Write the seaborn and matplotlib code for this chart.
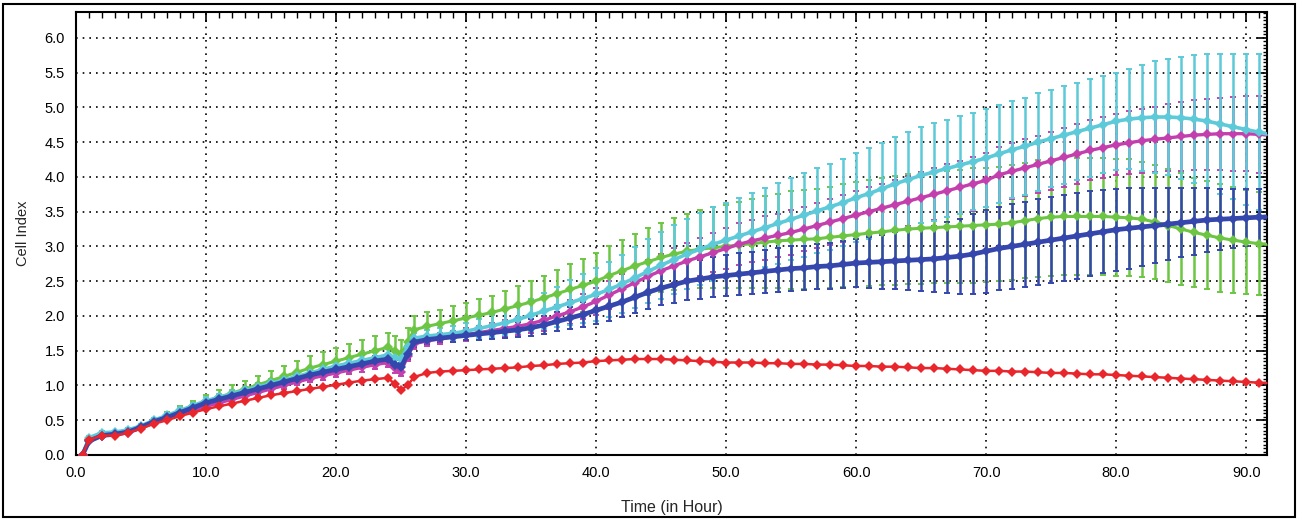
import matplotlib
matplotlib.use("Agg")
import matplotlib.pyplot as plt
import seaborn as sns
import pandas as pd
import numpy as np
from matplotlib.ticker import MultipleLocator, FormatStrFormatter
from matplotlib.patches import Rectangle

time_h = [0.5, 1, 2, 3, 4, 5, 6, 7, 8, 9, 10,
          11, 12, 13, 14, 15, 16, 17, 18, 19, 20, 21, 22, 23, 24,
          24.5, 25, 25.5,
          26, 27, 28, 29, 30, 31, 32, 33, 34, 35, 36, 37, 38, 39, 40,
          41, 42, 43, 44, 45, 46, 47, 48, 49, 50,
          51, 52, 53, 54, 55, 56, 57, 58, 59, 60,
          61, 62, 63, 64, 65, 66, 67, 68, 69, 70,
          71, 72, 73, 74, 75, 76, 77, 78, 79, 80,
          81, 82, 83, 84, 85, 86, 87, 88, 89, 90, 91, 92]

red = [0.0, 0.22, 0.28, 0.28, 0.32, 0.38, 0.45, 0.50, 0.56, 0.61, 0.66,
       0.70, 0.74, 0.78, 0.82, 0.86, 0.89, 0.92, 0.95, 0.98, 1.01, 1.04, 1.07, 1.09, 1.11,
       1.02, 0.94, 1.00,
       1.12, 1.18, 1.20, 1.21, 1.22, 1.23, 1.24, 1.25, 1.26, 1.28, 1.29, 1.31, 1.32, 1.33, 1.35,
       1.36, 1.37, 1.38, 1.38, 1.38, 1.37, 1.36, 1.35, 1.34, 1.33,
       1.33, 1.33, 1.32, 1.32, 1.31, 1.31, 1.30, 1.30, 1.29, 1.28,
       1.28, 1.27, 1.27, 1.26, 1.25, 1.25, 1.24, 1.23, 1.22, 1.21,
       1.21, 1.20, 1.20, 1.19, 1.18, 1.18, 1.17, 1.16, 1.16, 1.15,
       1.14, 1.13, 1.12, 1.11, 1.10, 1.09, 1.08, 1.07, 1.06, 1.05, 1.04, 1.03]

green = [0.0, 0.22, 0.28, 0.29, 0.33, 0.40, 0.48, 0.56, 0.63, 0.70, 0.77,
         0.83, 0.89, 0.95, 1.01, 1.07, 1.13, 1.19, 1.25, 1.30, 1.35, 1.40, 1.45, 1.50, 1.55,
         1.50, 1.45, 1.62,
         1.80, 1.85, 1.89, 1.93, 1.97, 2.01, 2.05, 2.10, 2.15, 2.20, 2.26, 2.32, 2.38, 2.44, 2.50,
         2.58, 2.65, 2.72, 2.78, 2.84, 2.89, 2.93, 2.96, 2.98, 3.00,
         3.02, 3.04, 3.06, 3.08, 3.09, 3.10, 3.11, 3.13, 3.15, 3.17,
         3.19, 3.21, 3.23, 3.25, 3.26, 3.27, 3.28, 3.29, 3.30, 3.31,
         3.32, 3.34, 3.37, 3.40, 3.42, 3.43, 3.43, 3.43, 3.43, 3.42,
         3.41, 3.39, 3.35, 3.30, 3.25, 3.20, 3.16, 3.12, 3.09, 3.06, 3.04, 3.02]
green_sd = [0.01, 0.02, 0.02, 0.03, 0.03, 0.04, 0.05, 0.06, 0.07, 0.08, 0.09,
            0.10, 0.11, 0.12, 0.13, 0.14, 0.15, 0.16, 0.17, 0.18, 0.19, 0.20, 0.20, 0.21, 0.21,
            0.21, 0.21, 0.21,
            0.20, 0.20, 0.20, 0.21, 0.22, 0.23, 0.24, 0.26, 0.28, 0.30, 0.32, 0.34, 0.36, 0.38, 0.40,
            0.42, 0.44, 0.46, 0.48, 0.50, 0.52, 0.54, 0.56, 0.58, 0.60,
            0.62, 0.64, 0.66, 0.68, 0.70, 0.71, 0.72, 0.73, 0.74, 0.75,
            0.76, 0.77, 0.78, 0.79, 0.80, 0.80, 0.81, 0.81, 0.82, 0.82,
            0.82, 0.83, 0.83, 0.84, 0.84, 0.84, 0.84, 0.84, 0.84, 0.84,
            0.84, 0.83, 0.82, 0.81, 0.80, 0.79, 0.78, 0.77, 0.76, 0.75, 0.74, 0.72]

magenta = [0.0, 0.22, 0.28, 0.29, 0.32, 0.39, 0.46, 0.52, 0.58, 0.64, 0.70,
           0.75, 0.80, 0.85, 0.90, 0.95, 1.00, 1.05, 1.10, 1.14, 1.18, 1.22, 1.26, 1.30, 1.33,
           1.25, 1.20, 1.42,
           1.60, 1.64, 1.67, 1.70, 1.73, 1.76, 1.79, 1.82, 1.85, 1.89, 1.94, 2.00, 2.06, 2.13, 2.21,
           2.30, 2.39, 2.48, 2.57, 2.65, 2.72, 2.79, 2.85, 2.91, 2.97,
           3.03, 3.08, 3.12, 3.16, 3.20, 3.25, 3.30, 3.35, 3.40, 3.45,
           3.50, 3.55, 3.60, 3.65, 3.70, 3.75, 3.80, 3.85, 3.90, 3.95,
           4.03, 4.08, 4.13, 4.18, 4.23, 4.28, 4.33, 4.38, 4.42, 4.46,
           4.49, 4.52, 4.54, 4.56, 4.58, 4.60, 4.61, 4.62, 4.62, 4.62, 4.61, 4.60]
magenta_sd = [0.01, 0.02, 0.02, 0.02, 0.02, 0.03, 0.03, 0.03, 0.03, 0.04, 0.04,
              0.04, 0.04, 0.04, 0.05, 0.05, 0.05, 0.05, 0.05, 0.06, 0.06, 0.06, 0.06, 0.07, 0.07,
              0.07, 0.07, 0.07,
              0.07, 0.07, 0.08, 0.08, 0.09, 0.10, 0.11, 0.12, 0.13, 0.14, 0.15, 0.16, 0.17, 0.18, 0.19,
              0.20, 0.21, 0.22, 0.23, 0.24, 0.25, 0.26, 0.27, 0.28, 0.29,
              0.30, 0.30, 0.31, 0.31, 0.32, 0.32, 0.33, 0.33, 0.34, 0.34,
              0.35, 0.35, 0.36, 0.36, 0.37, 0.37, 0.38, 0.38, 0.39, 0.39,
              0.40, 0.40, 0.41, 0.41, 0.42, 0.42, 0.43, 0.43, 0.44, 0.44,
              0.45, 0.46, 0.47, 0.48, 0.49, 0.50, 0.51, 0.52, 0.53, 0.54, 0.55, 0.56]

cyan = [0.0, 0.25, 0.32, 0.33, 0.36, 0.42, 0.50, 0.57, 0.64, 0.71, 0.78,
        0.83, 0.88, 0.93, 0.98, 1.03, 1.08, 1.13, 1.18, 1.23, 1.28, 1.32, 1.36, 1.40, 1.44,
        1.40, 1.38, 1.55,
        1.68, 1.71, 1.73, 1.75, 1.78, 1.82, 1.86, 1.90, 1.95, 2.01, 2.07, 2.13, 2.19, 2.25, 2.31,
        2.38, 2.46, 2.55, 2.64, 2.73, 2.81, 2.89, 2.96, 3.03, 3.09,
        3.15, 3.21, 3.27, 3.33, 3.39, 3.45, 3.51, 3.57, 3.63, 3.70,
        3.76, 3.83, 3.90, 3.96, 4.02, 4.07, 4.12, 4.17, 4.22, 4.27,
        4.33, 4.39, 4.44, 4.50, 4.55, 4.60, 4.65, 4.70, 4.75, 4.80,
        4.83, 4.85, 4.86, 4.86, 4.85, 4.83, 4.80, 4.76, 4.72, 4.68, 4.64, 4.60]
cyan_sd = [0.01, 0.02, 0.02, 0.02, 0.03, 0.03, 0.03, 0.04, 0.04, 0.04, 0.05,
           0.05, 0.05, 0.05, 0.06, 0.06, 0.06, 0.06, 0.07, 0.07, 0.07, 0.08, 0.08, 0.08, 0.08,
           0.08, 0.08, 0.08,
           0.08, 0.09, 0.10, 0.11, 0.12, 0.14, 0.16, 0.18, 0.20, 0.23, 0.26, 0.29, 0.32, 0.35, 0.38,
           0.40, 0.42, 0.44, 0.46, 0.48, 0.50, 0.51, 0.52, 0.53, 0.54,
           0.55, 0.56, 0.57, 0.58, 0.59, 0.60, 0.61, 0.62, 0.63, 0.64,
           0.65, 0.66, 0.67, 0.68, 0.69, 0.70, 0.70, 0.70, 0.70, 0.70,
           0.70, 0.70, 0.70, 0.70, 0.70, 0.70, 0.70, 0.70, 0.70, 0.70,
           0.72, 0.76, 0.80, 0.84, 0.88, 0.92, 0.96, 1.00, 1.04, 1.08, 1.12, 1.15]

blue = [0.0, 0.20, 0.28, 0.30, 0.33, 0.40, 0.48, 0.54, 0.61, 0.68, 0.75,
        0.80, 0.85, 0.90, 0.95, 1.00, 1.05, 1.10, 1.15, 1.19, 1.23, 1.27, 1.31, 1.35, 1.38,
        1.30, 1.26, 1.45,
        1.62, 1.66, 1.68, 1.70, 1.72, 1.74, 1.76, 1.78, 1.80, 1.83, 1.87, 1.92, 1.97, 2.02, 2.08,
        2.14, 2.20, 2.27, 2.34, 2.40, 2.45, 2.50, 2.53, 2.56, 2.58,
        2.60, 2.62, 2.64, 2.66, 2.68, 2.69, 2.71, 2.72, 2.74, 2.76,
        2.77, 2.78, 2.79, 2.80, 2.81, 2.82, 2.84, 2.86, 2.89, 2.93,
        2.97, 3.00, 3.03, 3.06, 3.09, 3.12, 3.15, 3.18, 3.21, 3.24,
        3.26, 3.28, 3.30, 3.32, 3.34, 3.36, 3.38, 3.39, 3.40, 3.41, 3.42, 3.42]
blue_sd = [0.01, 0.02, 0.02, 0.02, 0.02, 0.03, 0.03, 0.03, 0.03, 0.04, 0.04,
           0.04, 0.04, 0.05, 0.05, 0.05, 0.05, 0.05, 0.06, 0.06, 0.06, 0.06, 0.06, 0.07, 0.07,
           0.07, 0.07, 0.07,
           0.06, 0.06, 0.06, 0.07, 0.07, 0.08, 0.09, 0.10, 0.11, 0.12, 0.13, 0.14, 0.16, 0.18, 0.20,
           0.21, 0.22, 0.23, 0.24, 0.25, 0.26, 0.27, 0.28, 0.29, 0.30,
           0.30, 0.30, 0.31, 0.31, 0.32, 0.32, 0.33, 0.33, 0.34, 0.35,
           0.37, 0.39, 0.41, 0.43, 0.45, 0.48, 0.51, 0.54, 0.57, 0.60,
           0.60, 0.61, 0.61, 0.62, 0.62, 0.62, 0.62, 0.61, 0.60, 0.59,
           0.58, 0.56, 0.54, 0.52, 0.50, 0.48, 0.46, 0.44, 0.42, 0.41, 0.40, 0.40]

x_ticks = [0, 10, 20, 30, 40, 50, 60, 70, 80, 90]
y_ticks = [0.0, 0.5, 1.0, 1.5, 2.0, 2.5, 3.0, 3.5, 4.0, 4.5, 5.0, 5.5, 6.0]

sns.set_theme(style="white")
plt.rcParams['font.family'] = ['Liberation Sans', 'DejaVu Sans']

fig = plt.figure(figsize=(13.03, 5.21), dpi=100)
ax = fig.add_axes([76 / 1303, 1 - 455 / 521, (1267 - 76) / 1303, (455 - 12) / 521])

colors = {
    "green": "#6cc644",
    "magenta": "#c43fae",
    "cyan": "#5ccad8",
    "blue": "#3547ad",
    "red": "#e8262c",
}

series = [
    ("green", green, green_sd),
    ("magenta", magenta, magenta_sd),
    ("cyan", cyan, cyan_sd),
    ("blue", blue, blue_sd),
]

frames = []
for name, vals, sd in series:
    frames.append(pd.DataFrame({"time": time_h, "ci": vals, "sd": sd, "grp": name}))
frames.append(pd.DataFrame({"time": time_h, "ci": red, "sd": [0.0] * len(red), "grp": "red"}))
df = pd.concat(frames, ignore_index=True)

# error bars first
for i, (name, vals, sd) in enumerate(series):
    d = df[df.grp == name]
    ax.errorbar(d["time"], d["ci"], yerr=d["sd"], fmt="none", ecolor=colors[name],
                elinewidth=1.8, capsize=2.5, capthick=1.4, zorder=2 + i)

order = ["green", "magenta", "cyan", "blue", "red"]
widths = {"green": 2.2, "magenta": 2.4, "cyan": 2.6, "blue": 3.4, "red": 1.8}
for i, name in enumerate(order):
    d = df[df.grp == name]
    sns.lineplot(data=d, x="time", y="ci", ax=ax, color=colors[name], marker="D",
                 markersize=5, markeredgewidth=0, linewidth=widths[name], zorder=10 + i,
                 legend=False)

ax.set_xlim(0, 91.6)
ax.set_ylim(0, 6.37)
ax.set_xticks(x_ticks)
ax.set_yticks(y_ticks)
ax.xaxis.set_major_formatter(FormatStrFormatter("%.1f"))
ax.yaxis.set_major_formatter(FormatStrFormatter("%.1f"))
ax.xaxis.set_minor_locator(MultipleLocator(1))
ax.yaxis.set_minor_locator(MultipleLocator(0.05))
ax.tick_params(axis="both", which="major", direction="in", length=7, width=1.2,
               top=True, right=True, labelsize=10.5, colors="black", pad=8)
ax.tick_params(axis="both", which="minor", direction="in", length=4, width=1.0,
               top=True, right=True, colors="black")
ax.tick_params(axis="y", which="minor", length=3)
ax.grid(True, which="major", color="black", linestyle=(0, (1, 3)), linewidth=1.2)
for s in ax.spines.values():
    s.set_color("black")
    s.set_linewidth(1.5)
ax.set_xlabel("Time (in Hour)", fontsize=11.5, labelpad=14)
ax.set_ylabel("Cell Index", fontsize=10.5, labelpad=10)

fig.patches.append(Rectangle((3 / 1303, 4 / 521), 1292 / 1303, 513 / 521, transform=fig.transFigure,
                             fill=False, edgecolor="black", linewidth=1.5))

fig.savefig("out.png", dpi=100)
